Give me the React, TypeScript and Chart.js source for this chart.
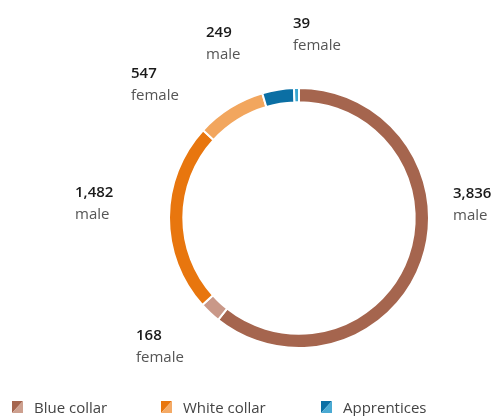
import React, { useEffect, useRef } from "react";
import { Chart, registerables } from "chart.js";

Chart.register(...registerables);

// Data
const segmentNames = [
  "Blue collar male",
  "Blue collar female",
  "White collar male",
  "White collar female",
  "Apprentices male",
  "Apprentices female",
];
const segmentValues = [3836, 168, 1482, 547, 249, 39];
const segmentGender = ["male", "female", "male", "female", "male", "female"];
const segmentColors = ["#A5654E", "#C99888", "#E8760E", "#F2A65E", "#0B6FA4", "#3BA6D0"];

const legendLabels = ["Blue collar", "White collar", "Apprentices"];
const legendDark = ["#A5654E", "#E8760E", "#0B6FA4"];
const legendLight = ["#CDA08F", "#F4AA66", "#4AAAD3"];

// Layout (label offsets from doughnut center, number baseline)
const labelOffsets: [number, number][] = [
  [154, -20],
  [-163, 122],
  [-224, -21],
  [-168, -140],
  [-93, -181],
  [-6, -190],
];
const legendX = [12, 161, 321];

const FONT = "'Open Sans', 'Noto Sans', sans-serif";

const fmt = (v: number) => v.toLocaleString("en-US");

const labelPlugin = {
  id: "customLabels",
  afterDraw(chart: any) {
    const ctx = chart.ctx;
    const arc = chart.getDatasetMeta(0).data[0];
    const cx = arc.x;
    const cy = arc.y;
    ctx.save();
    ctx.textAlign = "left";
    ctx.textBaseline = "alphabetic";
    segmentValues.forEach((v, i) => {
      const [dx, dy] = labelOffsets[i];
      ctx.fillStyle = "#1a1a1a";
      ctx.font = `600 15px ${FONT}`;
      ctx.fillText(fmt(v), cx + dx, cy + dy);
      ctx.fillStyle = "#555555";
      ctx.font = `400 15px ${FONT}`;
      ctx.fillText(segmentGender[i], cx + dx, cy + dy + 22);
    });
    // legend
    const top = 401;
    const w = 11;
    const h = 12;
    legendLabels.forEach((lab, i) => {
      const x = legendX[i];
      ctx.fillStyle = legendDark[i];
      ctx.beginPath();
      ctx.moveTo(x, top);
      ctx.lineTo(x + w, top);
      ctx.lineTo(x, top + h);
      ctx.closePath();
      ctx.fill();
      ctx.fillStyle = legendLight[i];
      ctx.beginPath();
      ctx.moveTo(x + w, top);
      ctx.lineTo(x + w, top + h);
      ctx.lineTo(x, top + h);
      ctx.closePath();
      ctx.fill();
      ctx.fillStyle = "#444444";
      ctx.font = `400 15px ${FONT}`;
      ctx.fillText(lab, x + 22, top + 12);
    });
    ctx.restore();
  },
};

export default function App() {
  const ref = useRef<HTMLCanvasElement | null>(null);
  useEffect(() => {
    if (!ref.current) return;
    const chart = new Chart(ref.current, {
      type: "doughnut",
      data: {
        labels: segmentNames,
        datasets: [
          {
            data: segmentValues,
            backgroundColor: segmentColors,
            borderColor: "#ffffff",
            borderWidth: 2,
          },
        ],
      },
      options: {
        responsive: false,
        animation: false,
        cutout: "89%",
        layout: { padding: { left: 168, right: 65, top: 87, bottom: 67 } },
        plugins: {
          legend: { display: false },
          tooltip: { enabled: false },
        },
      },
      plugins: [labelPlugin],
    });
    return () => chart.destroy();
  }, []);
  return (
    <div style={{ position: "fixed", left: 0, top: 0, width: 495, height: 416, background: "#fff" }}>
      <canvas ref={ref} width={495} height={416} style={{ width: 495, height: 416 }} />
    </div>
  );
}
